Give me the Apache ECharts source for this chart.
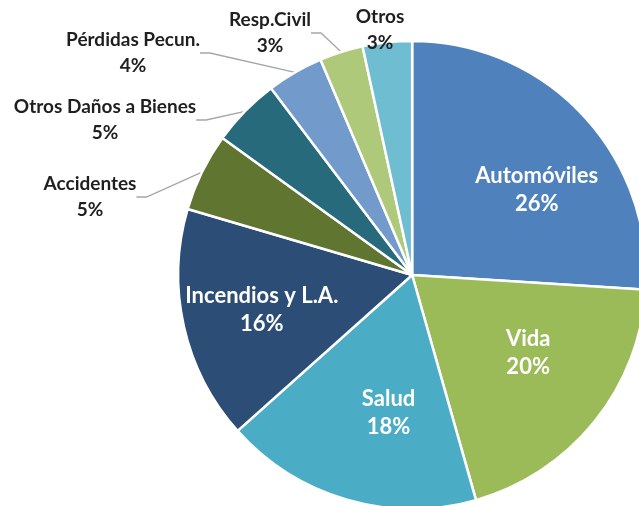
<!DOCTYPE html>
<html>
<head>
<meta charset="utf-8">
<script src="https://cdn.jsdelivr.net/npm/echarts@6/dist/echarts.min.js"></script>
<style>
  html, body { margin: 0; padding: 0; background: #fff; }
  #chart { width: 639px; height: 506px; }
</style>
</head>
<body>
<div id="chart"></div>
<script>
// share of premiums by line of business (clockwise from 12 o'clock)
const categories = ['Automóviles', 'Vida', 'Salud', 'Incendios y L.A.', 'Accidentes',
  'Otros Daños a Bienes', 'Pérdidas Pecun.', 'Resp.Civil', 'Otros'];
const shares = [26.0, 19.6, 17.8, 16.15, 5.4, 4.75, 3.9, 3.0, 3.4];
const colors = ['#4f81bd', '#9bbb59', '#4bacc6', '#2c4d75', '#5f7530',
  '#276a7c', '#729aca', '#afc97a', '#6fbdd1'];
const insideLabel = [true, true, true, true, false, false, false, false, false];

// label placement tweaks: outside labels get a fixed centre, inside ones a small nudge
const outerLabelPos = [null, null, null, null, [90, 197], [105, 120], [133, 53], [270, 33], [380, 30]];
const innerNudge = [[16, 17], [0, -16], [18, -5], [-5, 2]];

const chart = echarts.init(document.getElementById('chart'));
const center = ['64.5%', '54.35%'];
const font = 'Lato, "Open Sans", sans-serif';

chart.setOption({
  animation: false,
  series: [
    {
      type: 'pie',
      center: center,
      radius: 234,
      startAngle: 90,
      percentPrecision: 0,
      data: categories.map((name, i) => ({
        name: name,
        value: shares[i],
        itemStyle: { color: colors[i] },
        label: { show: !insideLabel[i] },
        labelLine: { show: !insideLabel[i] && i !== 8 }
      })),
      itemStyle: { borderColor: '#fff', borderWidth: 2.5 },
      label: {
        position: 'outside',
        formatter: '{b}\n{d}%',
        color: '#1f1f1f',
        fontFamily: font,
        fontWeight: 'bold',
        fontSize: 19,
        lineHeight: 26,
        align: 'center',
        overflow: 'none'
      },
      labelLine: {
        length: 10,
        length2: 10,
        lineStyle: { color: '#a6a6a6', width: 1.3 }
      },
      labelLayout: function (params) {
        const p = outerLabelPos[params.dataIndex];
        if (!p) return {};
        return { x: p[0], y: p[1], align: 'center', verticalAlign: 'middle' };
      },
      emphasis: { disabled: true }
    },
    {
      // transparent copy that only carries the in-slice labels
      type: 'pie',
      center: center,
      radius: [0, 292],
      startAngle: 90,
      percentPrecision: 0,
      silent: true,
      data: categories.map((name, i) => ({
        name: name,
        value: shares[i],
        label: { show: insideLabel[i] }
      })),
      itemStyle: { color: 'rgba(0,0,0,0)' },
      label: {
        position: 'inside',
        formatter: '{b}\n{d}%',
        color: '#fff',
        fontFamily: font,
        fontWeight: 'bold',
        fontSize: 22,
        lineHeight: 28,
        align: 'center'
      },
      labelLine: { show: false },
      labelLayout: function (params) {
        const n = innerNudge[params.dataIndex];
        if (!n) return {};
        return { dx: n[0], dy: n[1] };
      },
      emphasis: { disabled: true }
    }
  ]
});
</script>
</body>
</html>
